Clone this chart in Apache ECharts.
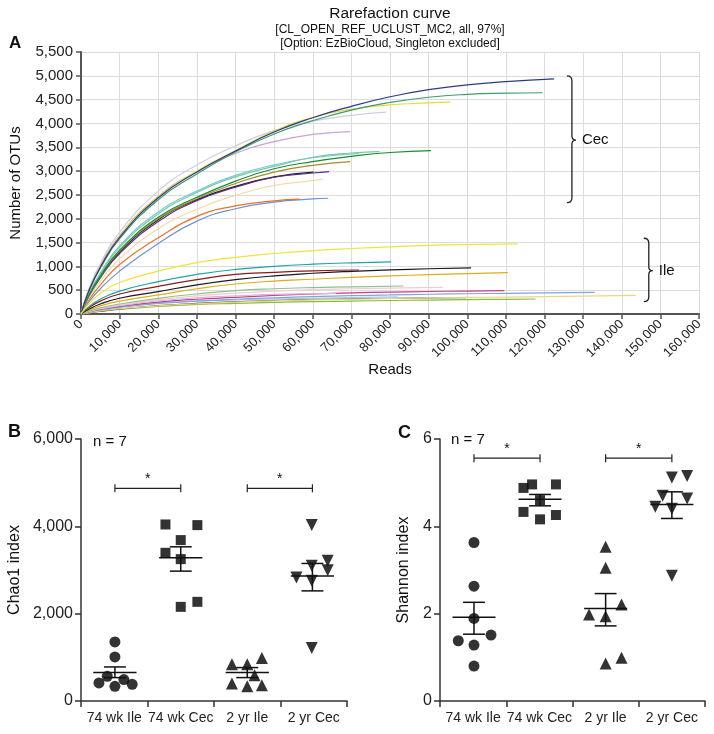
<!DOCTYPE html>
<html><head><meta charset="utf-8">
<script src="https://cdn.jsdelivr.net/npm/echarts/dist/echarts.min.js"></script>
<style>html,body{margin:0;padding:0;background:#fff}#c{width:714px;height:734px}</style>
</head><body><div id="c"></div><script>
// ---------- Panel A: rarefaction curves [reads, OTUs] ----------
const cec01 = [[0,0],[2000,480],[5000,980],[10000,1610],[20000,2440],[30000,2980],[40000,3420],[50000,3820],[60000,4120],[70000,4360],[80000,4560],[90000,4710],[100000,4810],[110000,4880],[122500,4935]];
const cec02 = [[0,0],[2000,470],[5000,960],[10000,1580],[20000,2400],[30000,2940],[40000,3400],[50000,3780],[60000,4060],[70000,4280],[80000,4440],[90000,4550],[100000,4610],[110000,4635],[119500,4645]];
const cec03 = [[0,0],[2000,490],[5000,1000],[10000,1640],[20000,2470],[30000,3000],[40000,3430],[50000,3840],[60000,4130],[70000,4300],[80000,4390],[90000,4430],[95600,4447]];
const cec04 = [[0,0],[2000,520],[5000,1060],[10000,1720],[20000,2580],[30000,3130],[40000,3530],[50000,3850],[60000,4050],[70000,4170],[79000,4237]];
const cec05 = [[0,0],[2000,500],[5000,1020],[10000,1650],[20000,2470],[30000,2990],[40000,3370],[50000,3620],[60000,3770],[69700,3830]];
const cec06 = [[0,0],[2000,410],[5000,840],[10000,1400],[20000,2100],[30000,2550],[40000,2880],[50000,3100],[60000,3290],[70000,3380],[77300,3410]];
const cec07 = [[0,0],[2000,390],[5000,800],[10000,1340],[20000,2030],[30000,2450],[40000,2790],[50000,3050],[60000,3200],[70000,3310],[80000,3390],[90600,3431]];
const cec08 = [[0,0],[2000,380],[5000,790],[10000,1320],[20000,2000],[30000,2420],[40000,2740],[50000,2980],[60000,3120],[69700,3200]];
const cec09 = [[0,0],[2000,370],[5000,760],[10000,1270],[20000,1940],[30000,2380],[40000,2660],[50000,2870],[60000,2960],[64200,2990]];
const cec10 = [[0,0],[2000,330],[5000,690],[10000,1160],[20000,1790],[30000,2200],[40000,2490],[50000,2700],[60000,2800],[62600,2830]];
const cec11 = [[0,0],[2000,290],[5000,610],[10000,1040],[20000,1600],[30000,2050],[40000,2270],[50000,2375],[56600,2410]];
const cec12 = [[0,0],[2000,250],[5000,530],[10000,900],[20000,1480],[30000,1950],[40000,2210],[50000,2350],[60000,2415],[64000,2430]];
const cec13 = [[0,0],[2000,380],[5000,780],[10000,1300],[20000,1980],[30000,2400],[40000,2680],[50000,2880],[60200,2980]];
const cec14 = [[0,0],[2000,420],[5000,860],[10000,1430],[20000,2140],[30000,2580],[40000,2910],[50000,3130],[60000,3280],[72000,3370]];

const ile01 = [[0,0],[2000,210],[5000,430],[10000,660],[20000,900],[30000,1080],[40000,1190],[50000,1270],[60000,1330],[70000,1375],[80000,1410],[90000,1440],[100000,1458],[113000,1470]];
const ile02 = [[0,0],[2000,150],[5000,310],[10000,480],[20000,680],[30000,830],[40000,935],[50000,1000],[60000,1045],[70000,1075],[80300,1095]];
const ile03 = [[0,0],[2000,130],[5000,270],[10000,420],[20000,580],[30000,720],[40000,830],[50000,875],[60000,905],[72000,924]];
const ile04 = [[0,0],[2000,100],[5000,210],[10000,330],[20000,470],[30000,610],[40000,720],[50000,800],[60000,855],[70000,895],[80000,925],[90000,950],[101000,970]];
const ile05 = [[0,0],[2000,80],[5000,170],[10000,270],[20000,400],[30000,530],[40000,630],[50000,690],[60000,730],[70000,770],[80000,800],[90000,825],[100000,848],[110500,868]];
const ile06 = [[0,0],[2000,60],[5000,130],[10000,210],[20000,330],[30000,420],[40000,490],[50000,530],[60000,555],[70000,570],[83500,588]];
const ile07 = [[0,0],[2000,55],[5000,115],[10000,190],[20000,300],[30000,380],[40000,440],[50000,480],[60000,510],[70000,530],[80000,545],[93600,561]];
const ile08 = [[0,0],[2000,45],[5000,95],[10000,160],[20000,250],[30000,310],[40000,350],[50000,390],[60000,420],[70000,445],[80000,460],[90000,472],[100000,482],[109600,490]];
const ile09 = [[0,0],[2000,40],[5000,85],[10000,140],[20000,220],[30000,270],[40000,310],[50000,340],[60000,365],[70000,385],[80000,400],[90000,415],[100000,425],[110000,435],[120000,445],[133000,456]];
const ile10 = [[0,0],[2000,42],[5000,90],[10000,150],[20000,235],[30000,270],[40000,294],[50000,315],[60000,330],[70000,345],[82000,360]];
const ile11 = [[0,0],[2000,30],[5000,65],[10000,110],[20000,170],[30000,215],[40000,250],[50000,275],[60000,295],[70000,310],[80000,325],[90000,337],[100000,347],[110000,356],[120000,366],[130000,376],[143600,392]];
const ile12 = [[0,0],[2000,30],[5000,60],[10000,105],[20000,175],[30000,225],[40000,259],[50000,285],[60000,305],[70000,320],[80000,330],[90000,337],[99700,343]];
const ile13 = [[0,0],[2000,25],[5000,55],[10000,95],[20000,160],[30000,200],[40000,224],[50000,245],[60000,260],[70000,272],[80000,283],[90000,293],[100000,302],[110000,309],[117700,315]];
const ile14 = [[0,0],[2000,50],[5000,105],[10000,175],[20000,275],[30000,340],[40000,380],[50000,410],[60000,425],[66000,432]];

// brace annotations [reads, top, tip, bottom]
const braceCec = [127100, 5000, 3652, 2336];
const braceIle = [147000, 1590, 910, 258];

// ---------- Panels B and C ----------
const groups = ['74 wk Ile', '74 wk Cec', '2 yr Ile', '2 yr Cec'];
// [category position (with jitter), value]
const chaoIle74 = [[0.51,1353],[0.51,1009],[0.395,566],[0.27,413],[0.51,337],[0.645,491],[0.77,383]];
const chaoCec74 = [[1.27,4043],[1.75,4028],[1.5,3685],[1.27,3394],[1.5,3249],[1.75,2271],[1.5,2156]];
const chaoIle2y = [[2.27,841],[2.5,841],[2.72,986],[2.61,589],[2.27,399],[2.5,337],[2.72,360]];
const chaoCec2y = [[3.47,4028],[3.47,3096],[3.71,3210],[3.71,2997],[3.24,2829],[3.47,2752],[3.47,1215]];
// [center, mean, mean-SEM, mean+SEM]
const chaoMeans = [[0.51,651,536,780],[1.5,3280,2974,3531],[2.5,651,536,765],[3.48,2860,2522,3150]];
const chaoSig = [[0.51,1.5,4870],[2.5,3.48,4870]];

const shanIle74 = [[0.513,3.63],[0.513,2.63],[0.513,1.89],[0.276,1.38],[0.77,1.51],[0.513,1.28],[0.513,0.80]];
const shanCec74 = [[1.26,4.88],[1.39,4.96],[1.75,4.96],[1.51,4.60],[1.26,4.33],[1.75,4.26],[1.51,4.16]];
const shanIle2y = [[2.5,3.53],[2.5,3.05],[2.74,2.21],[2.25,1.98],[2.5,1.94],[2.74,0.99],[2.5,0.86]];
const shanCec2y = [[3.5,5.12],[3.73,5.15],[3.36,4.70],[3.73,4.64],[3.25,4.45],[3.5,4.40],[3.5,2.87]];
const shanMeans = [[0.513,1.92,1.53,2.26],[1.51,4.62,4.47,4.73],[2.5,2.12,1.72,2.46],[3.5,4.50,4.18,4.79]];
const shanSig = [[0.513,1.51,5.56],[2.5,3.5,5.56]];

// ---------- styling ----------
const cecCurves = [cec13,cec12,cec11,cec10,cec09,cec08,cec14,cec06,cec07,cec05,cec04,cec03,cec02,cec01];
const cecColors = ['#1e1e1e','#6b93d6','#e8722e','#f6d9ab','#5b2c8e','#a88a2c','#6fcfd6','#7cc6a6','#1f8a2e','#c9a2d6','#cfcde6','#e8d83c','#3d9b74','#2e3a87'];
const ileCurves = [ile13,ile12,ile11,ile10,ile09,ile08,ile14,ile07,ile06,ile05,ile04,ile03,ile02,ile01];
const ileColors = ['#8cbc3a','#5e5e3c','#e8d68e','#a9cbe8','#7ea6d8','#c83c8c','#d8b8d8','#f2cbd4','#8fbf8f','#e0ac1c','#1a1a1a','#8b1a1a','#1fa3a8','#f0e33a'];

const FONT = 'Liberation Sans, Arial, sans-serif';
const fmt = v => String(v).replace(/\B(?=(\d{3})+(?!\d))/g, ',');

const chart = echarts.init(document.getElementById('c'), null, {renderer: 'canvas'});

function txt(t, x, y, size, opts) {
  opts = opts || {};
  return {type: 'text', silent: true, style: {legacy: false, text: t, x: x, y: y,
    font: (opts.bold ? 'bold ' : '') + size + 'px ' + FONT, fill: opts.color || '#111',
    align: opts.align || 'left', verticalAlign: opts.valign || 'middle'}};
}

function braceRender(label) {
  return function (params, api) {
    const x = api.value(0);
    const pT = api.coord([x, api.value(1)]);
    const pM = api.coord([x, api.value(2)]);
    const pB = api.coord([x, api.value(3)]);
    const X = pT[0];
    const d = 'M' + (X - 5) + ',' + pT[1] + ' Q' + X + ',' + pT[1] + ' ' + X + ',' + (pT[1] + 5) +
      ' L' + X + ',' + (pM[1] - 4) + ' Q' + X + ',' + pM[1] + ' ' + (X + 4) + ',' + pM[1] +
      ' Q' + X + ',' + pM[1] + ' ' + X + ',' + (pM[1] + 4) +
      ' L' + X + ',' + (pB[1] - 5) + ' Q' + X + ',' + pB[1] + ' ' + (X - 5) + ',' + pB[1];
    return {type: 'group', children: [
      {type: 'path', shape: {pathData: d}, style: {fill: 'none', stroke: '#222', lineWidth: 1.3}},
      {type: 'text', style: {legacy: false, text: label, x: X + 10, y: pM[1], font: '15px ' + FONT, fill: '#111', align: 'left', verticalAlign: 'middle'}}
    ]};
  };
}

function meanRender(params, api) {
  const c = api.value(0);
  const pm = api.coord([c, api.value(1)]);
  const plo = api.coord([c, api.value(2)]);
  const phi = api.coord([c, api.value(3)]);
  const w = api.size([0.325, 0])[0];
  const cap = api.size([0.165, 0])[0];
  const st = {stroke: '#111', lineWidth: 1.5};
  return {type: 'group', children: [
    {type: 'line', shape: {x1: pm[0] - w, y1: pm[1], x2: pm[0] + w, y2: pm[1]}, style: st},
    {type: 'line', shape: {x1: pm[0], y1: plo[1], x2: pm[0], y2: phi[1]}, style: st},
    {type: 'line', shape: {x1: pm[0] - cap, y1: plo[1], x2: pm[0] + cap, y2: plo[1]}, style: st},
    {type: 'line', shape: {x1: pm[0] - cap, y1: phi[1], x2: pm[0] + cap, y2: phi[1]}, style: st}
  ]};
}

function sigRender(params, api) {
  const p1 = api.coord([api.value(0), api.value(2)]);
  const p2 = api.coord([api.value(1), api.value(2)]);
  const st = {stroke: '#222', lineWidth: 1.2};
  return {type: 'group', children: [
    {type: 'line', shape: {x1: p1[0], y1: p1[1], x2: p2[0], y2: p2[1]}, style: st},
    {type: 'line', shape: {x1: p1[0], y1: p1[1] - 4, x2: p1[0], y2: p1[1] + 4}, style: st},
    {type: 'line', shape: {x1: p2[0], y1: p2[1] - 4, x2: p2[0], y2: p2[1] + 4}, style: st},
    {type: 'text', style: {legacy: false, text: '*', x: (p1[0] + p2[0]) / 2, y: p1[1] - 9, font: '14px ' + FONT, fill: '#111', align: 'center', verticalAlign: 'middle'}}
  ]};
}

const series = [];
cecCurves.forEach((d, i) => series.push({type: 'line', xAxisIndex: 0, yAxisIndex: 0, data: d, showSymbol: false,
  smooth: 0.5, silent: true, lineStyle: {width: 1.2, color: cecColors[i]}, itemStyle: {color: cecColors[i]}}));
ileCurves.forEach((d, i) => series.push({type: 'line', xAxisIndex: 0, yAxisIndex: 0, data: d, showSymbol: false,
  smooth: 0.5, silent: true, lineStyle: {width: 1.2, color: ileColors[i]}, itemStyle: {color: ileColors[i]}}));
series.push({type: 'custom', xAxisIndex: 0, yAxisIndex: 0, data: [braceCec], renderItem: braceRender('Cec'), silent: true});
series.push({type: 'custom', xAxisIndex: 0, yAxisIndex: 0, data: [braceIle], renderItem: braceRender('Ile'), silent: true});

function dotSeries(data, xi, yi, symbol, rot, size) {
  return {type: 'scatter', xAxisIndex: xi, yAxisIndex: yi, data: data, symbol: symbol, symbolRotate: rot,
    symbolSize: size, itemStyle: {color: '#000'}, silent: true, z: 3};
}
series.push(dotSeries(chaoIle74, 2, 1, 'circle', 0, 11));
series.push(dotSeries(chaoCec74, 2, 1, 'rect', 0, 10));
series.push(dotSeries(chaoIle2y, 2, 1, 'triangle', 0, 12));
series.push(dotSeries(chaoCec2y, 2, 1, 'triangle', 180, 12));
series.push({type: 'custom', xAxisIndex: 2, yAxisIndex: 1, data: chaoMeans, renderItem: meanRender, silent: true, z: 4});
series.push({type: 'custom', xAxisIndex: 2, yAxisIndex: 1, data: chaoSig, renderItem: sigRender, silent: true});
series.push(dotSeries(shanIle74, 4, 2, 'circle', 0, 11));
series.push(dotSeries(shanCec74, 4, 2, 'rect', 0, 10));
series.push(dotSeries(shanIle2y, 4, 2, 'triangle', 0, 12));
series.push(dotSeries(shanCec2y, 4, 2, 'triangle', 180, 12));
series.push({type: 'custom', xAxisIndex: 4, yAxisIndex: 2, data: shanMeans, renderItem: meanRender, silent: true, z: 4});
series.push({type: 'custom', xAxisIndex: 4, yAxisIndex: 2, data: shanSig, renderItem: sigRender, silent: true});

const axisDark = {lineStyle: {color: '#333', width: 1.5}};
const catAxis = (gi) => ({type: 'category', gridIndex: gi, data: groups, boundaryGap: true,
  axisLine: axisDark, axisTick: {show: true, length: 6, lineStyle: {color: '#333', width: 1.5}},
  axisLabel: {fontSize: 14, color: '#222', margin: 10, fontFamily: FONT, interval: 0}, splitLine: {show: false}});
const hidX = (gi) => ({type: 'value', gridIndex: gi, min: 0, max: 4, show: false});

const option = {
  animation: false,
  backgroundColor: '#fff',
  textStyle: {fontFamily: FONT},
  grid: [
    {left: 81, top: 52, width: 618, height: 262},
    {left: 81, top: 439, width: 266, height: 262},
    {left: 440, top: 439, width: 265, height: 262}
  ],
  xAxis: [
    {type: 'value', gridIndex: 0, min: 0, max: 160000, interval: 10000,
      name: 'Reads', nameLocation: 'middle', nameGap: 42, nameTextStyle: {fontSize: 15, color: '#111', fontFamily: FONT},
      axisLine: {lineStyle: {color: '#555', width: 2}}, axisTick: {show: true, length: 5, lineStyle: {color: '#555', width: 1.5}},
      axisLabel: {rotate: 45, fontSize: 13, color: '#222', margin: 8, formatter: fmt, fontFamily: FONT},
      splitLine: {show: true, lineStyle: {color: '#dcdcdc', width: 1}}},
    catAxis(1), hidX(1), catAxis(2), hidX(2)
  ],
  yAxis: [
    {type: 'value', gridIndex: 0, min: 0, max: 5500, interval: 500,
      name: 'Number of OTUs', nameLocation: 'middle', nameGap: 58, nameTextStyle: {fontSize: 15, color: '#111', fontFamily: FONT},
      axisLine: {show: true, lineStyle: {color: '#555', width: 2}}, axisTick: {show: true, length: 5, lineStyle: {color: '#555', width: 1.5}},
      axisLabel: {fontSize: 15, color: '#222', margin: 8, formatter: fmt, fontFamily: FONT},
      splitLine: {show: true, lineStyle: {color: '#dcdcdc', width: 1}}},
    {type: 'value', gridIndex: 1, min: 0, max: 6000, interval: 2000,
      name: 'Chao1 index', nameLocation: 'middle', nameGap: 58, nameTextStyle: {fontSize: 16, color: '#111', fontFamily: FONT},
      axisLine: {show: true, lineStyle: {color: '#333', width: 1.5}}, axisTick: {show: true, length: 6, lineStyle: {color: '#333', width: 1.5}},
      axisLabel: {fontSize: 16, color: '#222', margin: 8, formatter: fmt, fontFamily: FONT}, splitLine: {show: false}},
    {type: 'value', gridIndex: 2, min: 0, max: 6, interval: 2,
      name: 'Shannon index', nameLocation: 'middle', nameGap: 28, nameTextStyle: {fontSize: 16, color: '#111', fontFamily: FONT},
      axisLine: {show: true, lineStyle: {color: '#333', width: 1.5}}, axisTick: {show: true, length: 6, lineStyle: {color: '#333', width: 1.5}},
      axisLabel: {fontSize: 16, color: '#222', margin: 8, fontFamily: FONT}, splitLine: {show: false}}
  ],
  graphic: [
    txt('Rarefaction curve', 390, 14, 15.5, {align: 'center'}),
    txt('[CL_OPEN_REF_UCLUST_MC2, all, 97%]', 390, 30, 12, {align: 'center'}),
    txt('[Option: EzBioCloud, Singleton excluded]', 390, 44, 12, {align: 'center'}),
    txt('A', 9, 43, 17, {bold: true}),
    txt('B', 8, 432, 18, {bold: true}),
    txt('C', 398, 433, 18, {bold: true}),
    txt('n = 7', 93, 442, 15),
    txt('n = 7', 451, 440, 15)
  ],
  series: series
};
chart.setOption(option);
</script></body></html>
